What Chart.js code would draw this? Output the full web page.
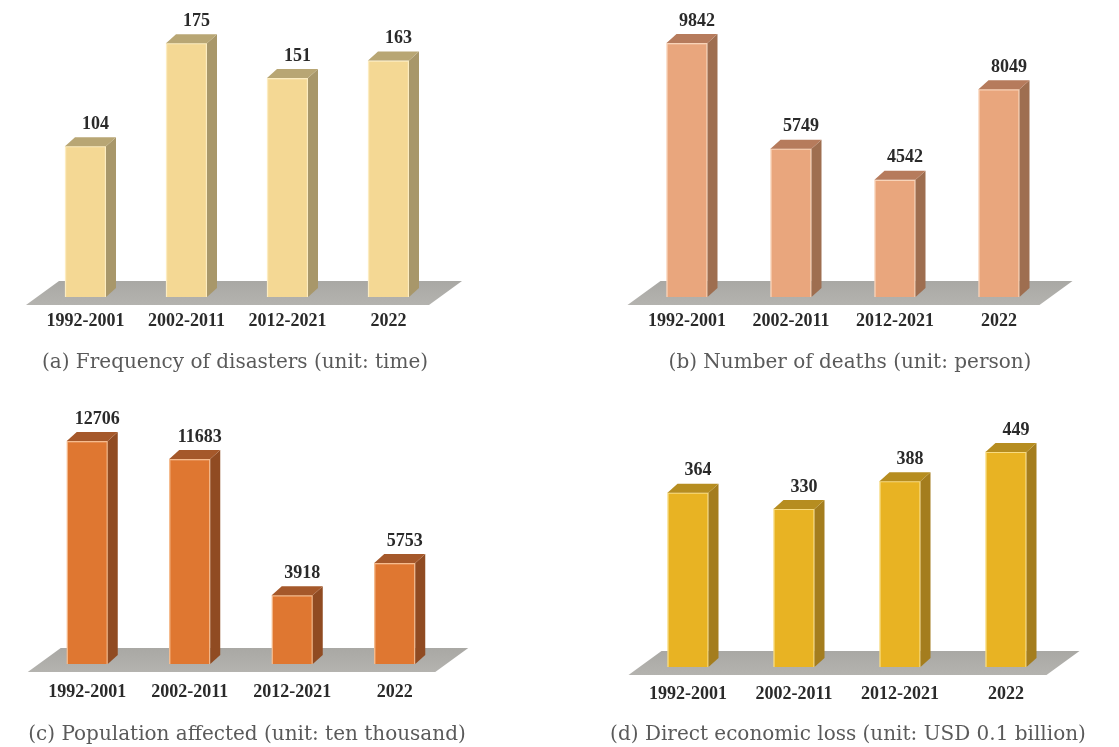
<!DOCTYPE html>
<html>
<head>
<meta charset="utf-8">
<title>Disaster statistics 1992-2022</title>
<script src="https://cdn.jsdelivr.net/npm/chart.js@4.4.1/dist/chart.umd.min.js"></script>
<style>
  html, body { margin: 0; padding: 0; background: #fff; }
  #wrap { position: relative; width: 1119px; height: 747px; overflow: hidden; }
  canvas { position: absolute; }
</style>
</head>
<body>
<div id="wrap">
  <canvas id="chartA" width="560" height="373" style="left:0;top:0"></canvas>
  <canvas id="chartB" width="559" height="373" style="left:560px;top:0"></canvas>
  <canvas id="chartC" width="560" height="373" style="left:0;top:374px"></canvas>
  <canvas id="chartD" width="559" height="373" style="left:560px;top:374px"></canvas>
</div>
<script>
const periods = ['1992-2001', '2002-2011', '2012-2021', '2022'];

const disasterCount = [104, 175, 151, 163];
const deathCount = [9842, 5749, 4542, 8049];
const affectedPop = [12706, 11683, 3918, 5753];
const economicLoss = [364, 330, 388, 449];

const captions = [
    '(a) Frequency of disasters (unit: time)',
    '(b) Number of deaths (unit: person)',
    '(c) Population affected (unit: ten thousand)',
    '(d) Direct economic loss (unit: USD 0.1 billion)'
];

const SERIF = "'Liberation Serif', 'Times New Roman', serif";

// depth of the fake 3d extrusion (right and up)
const DX = 10, DY = -9;

function poly(ctx, pts, color) {
    ctx.fillStyle = color;
    ctx.beginPath();
    ctx.moveTo(pts[0][0], pts[0][1]);
    for (let i = 1; i < pts.length; i++) ctx.lineTo(pts[i][0], pts[i][1]);
    ctx.closePath();
    ctx.fill();
}

// grey floor under the bars, plus side/top faces and value labels
const bars3d = {
    id: 'bars3d',
    beforeDatasetsDraw(chart, args, opts) {
        const bars = chart.getDatasetMeta(0).data;
        const first = bars[0], last = bars[bars.length - 1];
        const left = first.x - first.width / 2;
        const right = last.x + last.width / 2;
        const base = first.base;
        const ctx = chart.ctx;
        ctx.save();
        const grad = ctx.createLinearGradient(0, base - 16, 0, base + 8);
        grad.addColorStop(0, '#a9a8a4');
        grad.addColorStop(1, '#b4b3af');
        poly(ctx, [
            [left - 39, base + 8],
            [left - 6, base - 16],
            [right + 53, base - 16],
            [right + 20, base + 8]
        ], grad);
        ctx.restore();
    },
    afterDatasetsDraw(chart, args, opts) {
        const ctx = chart.ctx;
        const values = chart.data.datasets[0].data;
        ctx.save();
        chart.getDatasetMeta(0).data.forEach((bar, i) => {
            const { x, y, base, width } = bar.getProps(['x', 'y', 'base', 'width'], true);
            const l = x - width / 2, r = x + width / 2;
            poly(ctx, [[r, y], [r + DX, y + DY], [r + DX, base + DY], [r, base]], opts.side);
            poly(ctx, [[l, y], [l + DX, y + DY], [r + DX, y + DY], [r, y]], opts.top);
            ctx.fillStyle = '#2a2a2a';
            ctx.font = 'bold 18px ' + SERIF;
            ctx.textAlign = 'center';
            ctx.textBaseline = 'middle';
            ctx.fillText(String(values[i]), x + 10, y - 22);
        });
        ctx.restore();
    }
};

// area: plot left/right inside the canvas, cx: caption centre
const panels = [
    { id: 'chartA', values: disasterCount, caption: captions[0], max: 191,
      front: '#f4d894', edge: '#fcecc0', side: '#a8976a', top: '#b8a674',
      area: [35, 439], cx: 235, padBottom: -2, axisH: 54, tickPad: 14 },
    { id: 'chartB', values: deathCount, caption: captions[1], max: 10733,
      front: '#e9a67d', edge: '#f8d3b8', side: '#9e6e50', top: '#b67b5c',
      area: [75, 491], cx: 290, padBottom: -2, axisH: 54, tickPad: 14 },
    { id: 'chartC', values: affectedPop, caption: captions[2], max: 15384,
      front: '#df7731', edge: '#f5bb8e', side: '#904b22', top: '#a5582a',
      area: [36, 446], cx: 247, padBottom: 0, axisH: 59, tickPad: 18 },
    { id: 'chartD', values: economicLoss, caption: captions[3], max: 570,
      front: '#e8b323', edge: '#f8db80', side: '#a47d1e', top: '#b68d20',
      area: [75, 499], cx: 288, padBottom: 0, axisH: 56, tickPad: 17 }
];

const HALF_CAPTION = 240;

panels.forEach(p => {
    const canvas = document.getElementById(p.id);
    const boxL = Math.max(0, p.cx - HALF_CAPTION);
    const boxR = Math.min(canvas.width, boxL + 2 * (p.cx - boxL));
    const leftW = p.area[0] - boxL;
    const rightW = boxR - p.area[1];

    new Chart(canvas, {
        type: 'bar',
        data: {
            labels: periods,
            datasets: [{
                data: p.values,
                backgroundColor: p.front,
                borderColor: p.edge,
                borderWidth: 1.5,
                barThickness: 41
            }]
        },
        options: {
            responsive: false,
            animation: false,
            events: [],
            layout: { padding: { left: boxL, right: canvas.width - boxR, top: 20, bottom: p.padBottom } },
            plugins: {
                legend: { display: false },
                tooltip: { enabled: false },
                title: {
                    display: true,
                    position: 'bottom',
                    text: p.caption,
                    color: '#5a5a5a',
                    font: { family: "'DejaVu Serif', serif", size: 20, weight: 'normal' },
                    padding: 0
                },
                bars3d: { side: p.side, top: p.top }
            },
            scales: {
                x: {
                    grid: { display: false, drawTicks: false },
                    border: { display: false },
                    ticks: {
                        color: '#2a2a2a',
                        padding: p.tickPad,
                        font: { family: SERIF, size: 18, weight: 'bold' }
                    },
                    afterFit(axis) { axis.height = p.axisH; }
                },
                y: {
                    position: 'right',
                    min: 0,
                    max: p.max,
                    grid: { display: false, drawTicks: false },
                    border: { display: false },
                    ticks: { display: false },
                    afterFit(axis) { axis.width = rightW; }
                },
                // empty spacer on the left so the caption can run wider than the bars
                yLeft: {
                    type: 'linear',
                    position: 'left',
                    grid: { display: false, drawTicks: false },
                    border: { display: false },
                    ticks: { display: false },
                    afterFit(axis) { axis.width = leftW; }
                }
            }
        },
        plugins: [bars3d]
    });
});
</script>
</body>
</html>
